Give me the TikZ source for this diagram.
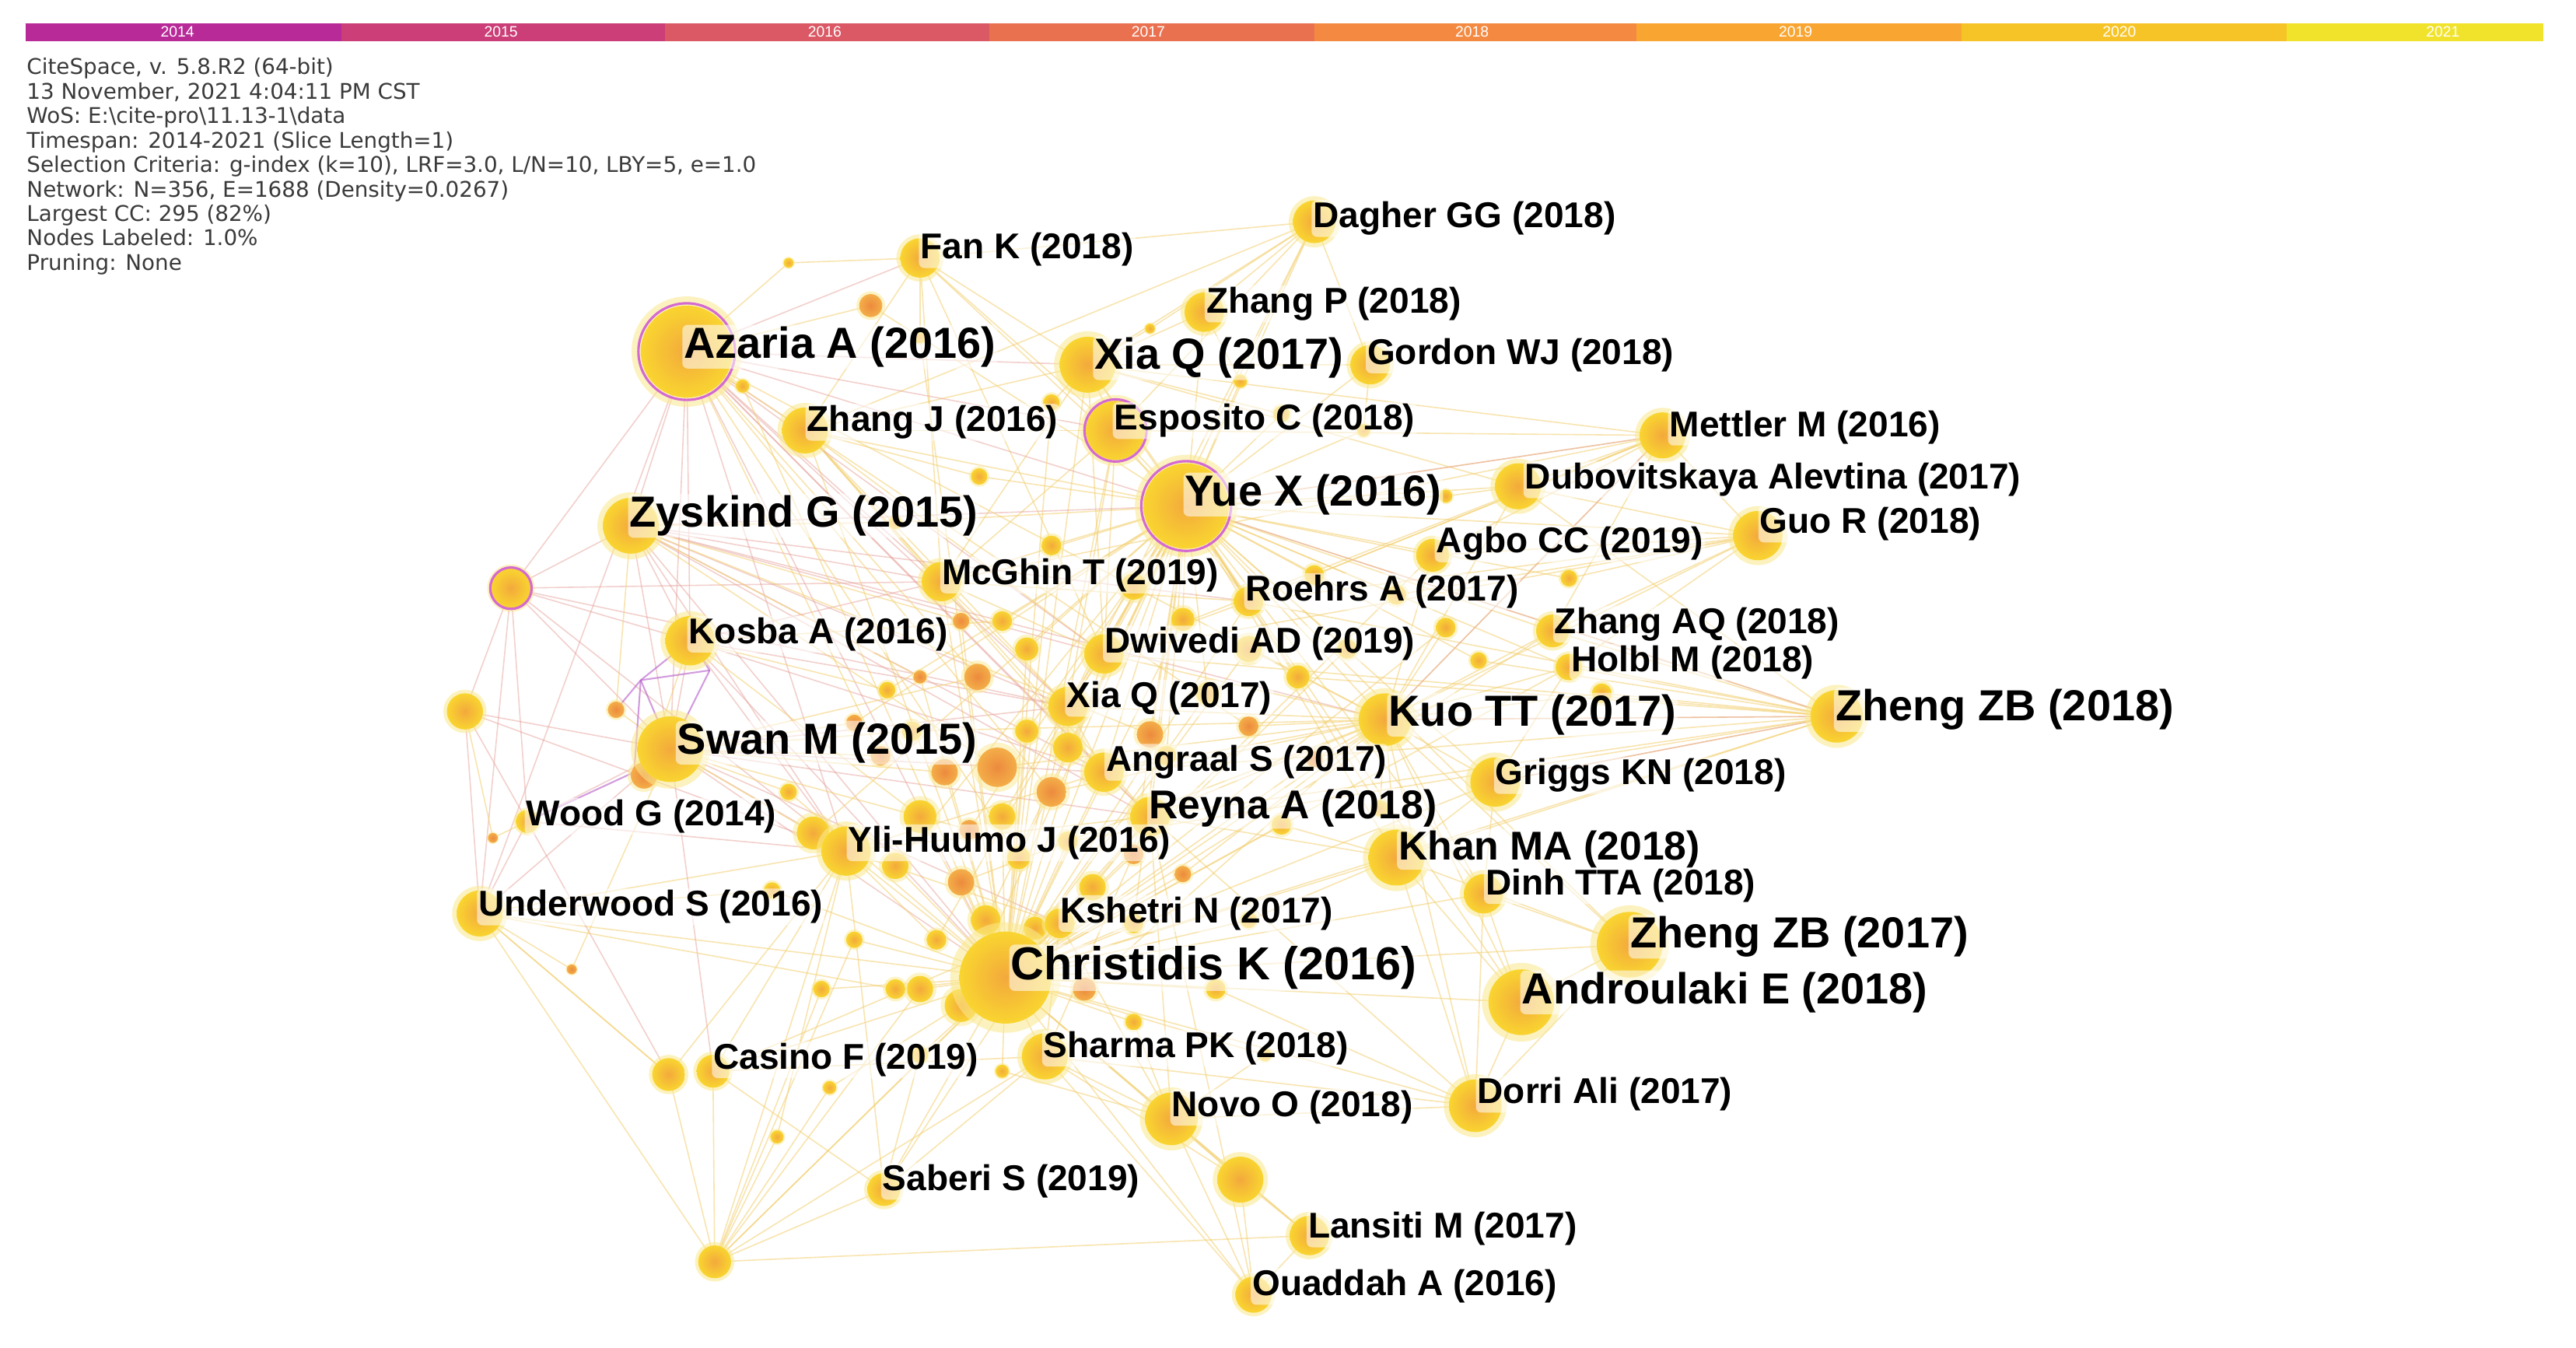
\documentclass[tikz,border=0pt]{standalone}
\usepackage{fontspec}
\setmainfont{Liberation Sans}
\newfontfamily\infofont{DejaVu Sans}
\definecolor{c14}{HTML}{B72A98}
\definecolor{c15}{HTML}{CB3E78}
\definecolor{c16}{HTML}{DA5965}
\definecolor{c17}{HTML}{EA7150}
\definecolor{c18}{HTML}{F48A42}
\definecolor{c19}{HTML}{F9A531}
\definecolor{c20}{HTML}{F7C428}
\definecolor{c21}{HTML}{F1E32C}
\definecolor{iny}{HTML}{F3A93C}
\definecolor{outy}{HTML}{F9D530}
\definecolor{ino}{HTML}{EC8A3E}
\definecolor{outo}{HTML}{F4AE48}
\definecolor{ndHalo}{HTML}{FBE98E}
\definecolor{ringc}{HTML}{D46AD0}
\definecolor{edgeY}{HTML}{F3CF6E}
\definecolor{edgeR}{HTML}{E6A29A}
\definecolor{edgeP}{HTML}{B55AC8}
\definecolor{infoc}{HTML}{3A3A3A}
\def\U{0.6009pt}
\newcommand\hlab[4]{\node[#3] (#1) at (#2) {#4};}
\begin{document}
\begin{tikzpicture}[x=0.021122cm,y=-0.021122cm,
  lbase/.style={anchor=west, inner sep=0.6pt, text=black, fill=white, fill opacity=0.55, text opacity=1, rounded corners=2pt, yshift=-1.8pt},
  lblS/.style={lbase, font=\fontsize{13.1}{14}\selectfont\bfseries},
  lblM/.style={lbase, font=\fontsize{14.7}{16}\selectfont\bfseries},
  lblL/.style={lbase, font=\fontsize{15.9}{17}\selectfont\bfseries},
  lblXL/.style={lbase, font=\fontsize{16.9}{18}\selectfont\bfseries},
  yearlbl/.style={text=white, font=\fontsize{5.5}{6}\selectfont, inner sep=0pt},
  info/.style={anchor=north west, align=left, inner sep=0pt, text=infoc, font=\infofont\fontsize{7.9}{8.95}\selectfont},
  edgeyel/.style={draw=edgeY, line width=0.45pt, opacity=0.55},
  edgered/.style={draw=edgeR, line width=0.45pt, opacity=0.5},
  edgepur/.style={draw=edgeP, line width=0.6pt, opacity=0.6},
  ringst/.style={draw=ringc, line width=0.9pt},
]
\fill[white] (0,0) rectangle (1568,820);
\useasboundingbox (0,0) rectangle (1568,820);

% ---- time bar
\foreach \a/\b/\c/\yr/\k in {15.4/208/c14/2014/0, 208/405/c15/2015/1, 405/602/c16/2016/2, 602/800/c17/2017/3, 800/996/c18/2018/4, 996/1194/c19/2019/5, 1194/1392/c20/2020/6, 1392/1548/c21/2021/7}
{
  \fill[\c] (\a,14) rectangle (\b,25);
  \node[yearlbl] (yr\yr) at ({108+197*\k},19.5) {\yr};
}

% ---- info
\node[info] (info) at (16,35) {CiteSpace, v. 5.8.R2 (64-bit)\\
13 November, 2021 4:04:11 PM CST\\
WoS: E:\textbackslash cite-pro\textbackslash 11.13-1\textbackslash data\\
Timespan: 2014-2021 (Slice Length=1)\\
Selection Criteria: g-index (k=10), LRF=3.0, L/N=10, LBY=5, e=1.0\\
Network: N=356, E=1688 (Density=0.0267)\\
Largest CC: 295 (82\%)\\
Nodes Labeled: 1.0\%\\
Pruning: None};

% ---- node data
\def\Lnodes{aza/418/214/28/1, xiab/662/222/17/0, dag/800/135/13/0, fan/560/157/12/0, zhp/733/190/12/0, gor/834/222/12/0, zhj/490/262/14/0, esp/679/262/18/1, met/1012/265/14/0, yue/722/308/26/1, dub/924/296/14/0, zys/384/320/17/0, guo/1070/326/15/0, agb/872/338/10/0, mcg/573/354/12/0, roe/760/366/9/0, kos/420/390/15/0, dwi/672/398/12/0, zaq/945/384/10/0, hol/955/406/8/0, xias/650/430/12/0, kuo/843/438/16/0, zzbe/1118/436/16/0, swa/408/456/20/0, ang/672/470/12/0, gri/910/476/15/0, rey/700/497/12/0, woo/321/500/7/0, yli/515/518/15/0, kha/850/522/17/0, din/903/544/12/0, und/292/556/14/0, ksh/645/562/9/0, zzbs/992/575/20/0, chr/612/595/28/0, andr/926/610/20/0, sha/636/643/14/0, cas/434/652/10/0, dor/898/673/16/0, nov/713/681/16/0, sab/538/724/10/0, lan/797/752/12/0, oua/763/788/11/0, ua/311/358/12/1, ub/283/433/11/0, uc/435/768/10/0, ud/755/718/14/0, cas2/407/654/10/0}

\def\Snodes{s1/452/235/4/y/aza/chr, s2/480/160/3/y/fan/aza, s3/530/186/7/o/aza/yue, s4/560/205/4/y/fan/chr, s5/640/245/5/y/xiab/chr, s6/596/290/5/y/yue/zhj, s7/545/318/4/y/zys/yue, s8/585/378/5/o/zys/chr, s9/610/378/6/y/yue/kos, s10/625/395/7/y/yue/chr, s11/595/412/8/o/aza/swa, s12/560/412/4/o/zys/chr, s13/540/420/5/y/kos/yue, s14/520/440/5/o/swa/yue, s15/555/445/6/y/swa/kuo, s16/575/470/8/o/swa/chr, s17/607/467/12/o/zys/kuo, s18/625/445/7/y/yue/chr, s19/640/482/9/o/aza/kuo, s20/610/497/8/y/chr/yue, s21/590/505/6/o/swa/yue, s22/560/497/10/y/kos/chr, s23/545/527/8/y/chr/yue, s24/585/537/8/o/chr/kuo, s25/620/522/7/y/yue/aza, s26/650/512/6/y/chr/zzbe, s27/600/560/9/y/chr/yue, s28/570/572/6/y/yli/yue, s29/560/602/8/y/chr/uc, s30/585/612/10/y/chr/yue, s31/660/602/7/o/chr/kuo, s32/690/562/6/y/yue/chr, s33/720/532/5/o/chr/kuo, s34/700/447/8/o/yue/zys, s35/735/422/7/y/yue/chr, s36/760/442/6/o/kuo/aza, s37/790/412/7/y/yue/zzbe, s38/820/395/6/y/yue/chr, s39/760/395/8/y/kuo/chr, s40/720/377/7/y/yue/chr, s41/690/357/8/y/aza/kuo, s42/640/332/6/y/yue/chr, s43/800/350/6/y/yue/met, s44/850/362/6/y/yue/guo, s45/880/382/6/y/kuo/chr, s46/900/402/5/y/yue/zzbe, s47/800/462/5/o/kuo/chr, s48/780/502/6/y/kha/chr, s49/840/492/5/y/kuo/yue, s50/480/482/5/y/swa/chr, s51/495/507/10/y/swa/yue, s52/470/542/5/y/und/chr, s53/520/572/5/y/chr/uc, s54/545/602/6/y/chr/und, s55/500/602/5/y/uc/chr, s56/505/662/4/y/uc/chr, s57/473/692/4/y/uc/yli, s58/348/590/3/o/und/swa, s59/300/510/3/o/woo/ub, s60/375/432/5/o/swa/zys, s61/392/472/8/o/swa/kos, s62/560/642/5/y/sab/chr, s63/610/652/4/y/chr/nov, s64/690/622/5/y/chr/nov, s65/740/602/6/y/chr/dor, s66/770/642/4/y/nov/chr, s67/975/422/6/y/zzbe/kuo, s68/955/352/5/y/guo/yue, s69/880/302/4/y/dub/yue, s70/830/262/4/y/gor/yue, s71/780/252/5/y/yue/xiab, s72/755/232/4/y/zhp/yue, s73/700/200/3/y/xiab/dag, s74/536/460/6/o/swa/aza, s75/630/565/7/y/chr/ksh, s76/665/540/8/y/chr/rey, s77/690/520/6/o/rey/yue, s78/760/560/5/y/chr/kha, s79/710/460/6/y/ang/yue, s80/650/455/9/y/xias/yue}

% coordinates
\foreach \n/\x/\y/\r/\p in \Lnodes {\coordinate (\n) at (\x,\y);}
\foreach \n/\x/\y/\r/\c/\ha/\hb in \Snodes {\coordinate (\n) at (\x,\y);}
\coordinate (pa) at (390,414);
\coordinate (pb) at (386,470);
\coordinate (pc) at (432,408);

% ---- edges
\foreach \a/\b in {chr/yli, chr/ksh, chr/sha, chr/nov, chr/rey, chr/ang, chr/xias, chr/dwi, chr/mcg, chr/yue, chr/kuo, chr/kha, chr/din, chr/zzbs, chr/andr, chr/dor, chr/cas, chr/sab, chr/oua, chr/lan, chr/und, chr/zhj, chr/esp, chr/xiab, chr/roe, chr/agb, chr/gri, chr/ud, chr/uc, chr/zzbe, chr/hol, chr/zaq,
yue/esp, yue/xiab, yue/zhp, yue/gor, yue/dag, yue/fan, yue/met, yue/dub, yue/guo, yue/agb, yue/roe, yue/zaq, yue/hol, yue/kuo, yue/gri, yue/zzbe, yue/kha, yue/din, yue/dwi, yue/mcg, yue/ang, yue/rey, yue/zhj, yue/xias, yue/zzbs, yue/andr,
kuo/zzbe, kuo/gri, kuo/hol, kuo/zaq, kuo/dub, kuo/guo, kuo/agb, kuo/met, kuo/kha, kuo/din, kuo/zzbs, kuo/andr, kuo/dor, kuo/rey, kuo/ang, kuo/dwi, kuo/xias,
zzbe/gri, zzbe/hol, zzbe/zaq, zzbe/kha, zzbe/dwi, zzbe/roe, zzbe/rey, zzbe/dub, zzbe/ang,
xiab/dag, xiab/zhp, xiab/gor, xiab/fan, xiab/esp, xiab/zhj, xiab/met, xiab/dub, xiab/dwi, xiab/roe, xiab/mcg,
dag/zhp, dag/gor, dag/fan, dag/esp, dag/zhj, dag/xias, dag/dwi,
uc/cas, uc/cas2, uc/sab, uc/und, uc/yli, uc/sha, uc/lan, uc/ksh,
oua/nov, oua/sha, oua/lan, oua/ud, oua/rey,
nov/sha, nov/ud, nov/lan, nov/ksh, nov/rey, nov/dor,
dor/andr, dor/zzbs, dor/kha, dor/sha, dor/rey, dor/din,
met/dub, met/guo, met/agb, met/roe, met/dwi, met/zaq, met/mcg, met/esp,
guo/dub, guo/agb, guo/zaq, guo/roe, guo/dwi, guo/hol,
fan/zhj, fan/esp, fan/mcg, fan/dwi,
zhj/esp, zhj/mcg, zhj/dwi, zhj/xias, zhj/ang, zhj/rey,
esp/mcg, esp/dwi, esp/roe, esp/xias,
sab/cas, sab/yli, sab/sha, sab/ksh,
cas/yli, cas/ksh, cas/sha, cas2/yli, cas2/und,
zzbs/kha, zzbs/din, zzbs/andr, andr/kha, andr/din, gri/kha, gri/din, gri/hol,
ang/rey, ang/xias, dwi/xias, dwi/roe, mcg/roe, mcg/dwi, mcg/xias, rey/kha, ksh/rey, sha/ksh, sha/rey, yli/ksh, yli/rey, yli/ang, und/yli, und/cas2, lan/ud, ud/sha}
{\draw[edgeyel] (\a) -- (\b);}

\foreach \a/\b in {aza/zys, aza/kos, aza/swa, aza/zhj, aza/mcg, aza/dwi, aza/xias, aza/ua, aza/fan, aza/xiab, aza/esp, aza/rey, aza/ang, aza/yli, aza/und, aza/yue, aza/chr,
zys/kos, zys/swa, zys/ua, zys/mcg, zys/dwi, zys/xias, zys/yli, zys/ang, zys/rey, zys/kuo, zys/roe, zys/yue, zys/chr,
swa/kos, swa/woo, swa/ua, swa/ub, swa/yli, swa/und, swa/ksh, swa/xias, swa/ang, swa/rey, swa/cas, swa/chr,
kos/ua, kos/yli, kos/xias, kos/ang, kos/mcg, kos/chr,
ua/woo, ua/und, ua/ub, ua/yli, ua/xias, ua/mcg,
ub/woo, ub/und, ub/yli, woo/und, woo/yli, woo/cas2,
zzbe/kuo, zzbe/yue, zzbe/gri, met/yue, met/kuo}
{\draw[edgered] (\a) -- (\b);}

\foreach \n/\x/\y/\r/\c/\ha/\hb in \Snodes {\draw[edgeyel] (\n) -- (\ha); \draw[edgeyel] (\n) -- (\hb);}

\foreach \a/\b in {pa/pb, pa/pc, pa/swa, pb/swa, pc/swa, pb/s61, pa/s60, pc/kos, pb/woo, pa/kos}
{\draw[edgepur] (\a) -- (\b);}

% ---- node discs
\foreach \n/\x/\y/\r/\c/\ha/\hb in \Snodes {
  \fill[ndHalo, opacity=0.5] (\n) circle ({1.25*\r*\U});
  \shade[inner color=in\c, outer color=out\c] (\n) circle ({\r*\U});
}
\foreach \n/\x/\y/\r/\p in \Lnodes {
  \fill[ndHalo, opacity=0.55] (\n) circle ({1.2*\r*\U});
  \shade[inner color=iny, outer color=outy] (\n) circle ({\r*\U});
  \ifnum\p=1 \draw[ringst] (\n) circle ({1.05*\r*\U}); \fi
}

% ---- labels
\hlab{t1}{798,130}{lblS}{Dagher GG (2018)}
\hlab{t2}{559,149}{lblS}{Fan K (2018)}
\hlab{t3}{733,182}{lblS}{Zhang P (2018)}
\hlab{t4}{415,208}{lblL}{Azaria A (2016)}
\hlab{t5}{665,215}{lblL}{Xia Q (2017)}
\hlab{t6}{831,213}{lblS}{Gordon WJ (2018)}
\hlab{t7}{490,254}{lblS}{Zhang J (2016)}
\hlab{t8}{677,253}{lblS}{Esposito C (2018)}
\hlab{t9}{1015,257}{lblS}{Mettler M (2016)}
\hlab{t10}{720,298}{lblL}{Yue X (2016)}
\hlab{t11}{927,289}{lblS}{Dubovitskaya Alevtina (2017)}
\hlab{t12}{382,311}{lblL}{Zyskind G (2015)}
\hlab{t13}{1070,316}{lblS}{Guo R (2018)}
\hlab{t14}{873,328}{lblS}{Agbo CC (2019)}
\hlab{t15}{572,347}{lblS}{McGhin T (2019)}
\hlab{t16}{757,357}{lblS}{Roehrs A (2017)}
\hlab{t17}{418,383}{lblS}{Kosba A (2016)}
\hlab{t18}{671,389}{lblS}{Dwivedi AD (2019)}
\hlab{t19}{945,377}{lblS}{Zhang AQ (2018)}
\hlab{t20}{955,400}{lblS}{Holbl M (2018)}
\hlab{t21}{648,422}{lblS}{Xia Q (2017)}
\hlab{t22}{844,432}{lblL}{Kuo TT (2017)}
\hlab{t23}{1116,429}{lblL}{Zheng ZB (2018)}
\hlab{t24}{411,449}{lblL}{Swan M (2015)}
\hlab{t25}{672,461}{lblS}{Angraal S (2017)}
\hlab{t26}{909,469}{lblS}{Griggs KN (2018)}
\hlab{t27}{698,489}{lblM}{Reyna A (2018)}
\hlab{t28}{319,494}{lblS}{Wood G (2014)}
\hlab{t29}{515,510}{lblS}{Yli-Huumo J (2016)}
\hlab{t30}{850,514}{lblM}{Khan MA (2018)}
\hlab{t31}{903,536}{lblS}{Dinh TTA (2018)}
\hlab{t32}{290,549}{lblS}{Underwood S (2016)}
\hlab{t33}{644,553}{lblS}{Kshetri N (2017)}
\hlab{t34}{991,567}{lblL}{Zheng ZB (2017)}
\hlab{t35}{614,586}{lblXL}{Christidis K (2016)}
\hlab{t36}{925,601}{lblL}{Androulaki E (2018)}
\hlab{t37}{634,635}{lblS}{Sharma PK (2018)}
\hlab{t38}{433,642}{lblS}{Casino F (2019)}
\hlab{t39}{898,663}{lblS}{Dorri Ali (2017)}
\hlab{t40}{712,671}{lblS}{Novo O (2018)}
\hlab{t41}{536,716}{lblS}{Saberi S (2019)}
\hlab{t42}{795,745}{lblS}{Lansiti M (2017)}
\hlab{t43}{761,780}{lblS}{Ouaddah A (2016)}
\end{tikzpicture}
\end{document}
